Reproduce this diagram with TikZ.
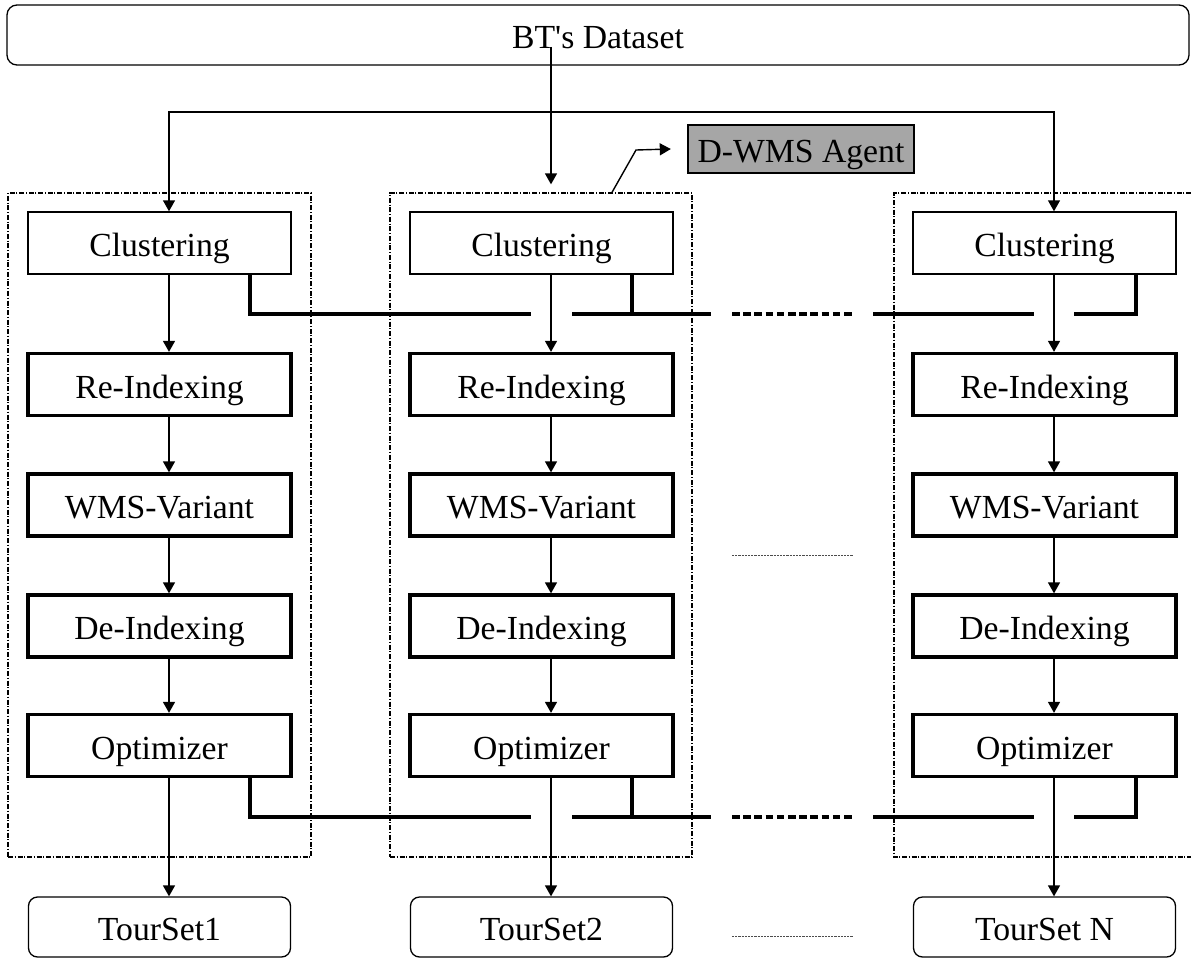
\documentclass[tikz,border=0pt]{standalone}
\usepackage{fontspec}
\setmainfont{Liberation Serif}[Ligatures=TeXOff]
\usetikzlibrary{arrows.meta,calc}
\begin{document}
\begin{tikzpicture}[x=1pt,y=-1pt,
  txt/.style={font=\fontsize{33.7pt}{40pt}\selectfont, text height=27pt, text depth=0pt, inner sep=0pt},
  stage/.style={txt, draw, line width=1.4pt, minimum width=263pt, minimum height=62pt},
  heavystage/.style={stage, line width=3.3pt},
  endbox/.style={txt, draw, line width=1.3pt, rounded corners=9pt, minimum width=262pt, minimum height=60pt},
  agentframe/.style={draw, line width=1.3pt, dash pattern=on 5pt off 1.6pt on 1.3pt off 1.6pt},
  frame/.style={agentframe, inner sep=0pt, minimum height=664pt},
  tag/.style={txt, draw, fill=black!35, line width=2.4pt, minimum width=226pt, minimum height=48pt},
  tip/.style={Triangle[length=11pt,width=12pt]},
  arr/.style={line width=1.4pt, -{Triangle[length=11pt,width=12pt]}},
  bus/.style={line width=4.6pt},
  busdots/.style={line width=4.6pt, dash pattern=on 7.5pt off 3.7pt},
  gapdots/.style={line width=1pt, black!70, dash pattern=on 2.2pt off 1pt}]

\useasboundingbox (0,0) rectangle (1191,958);

% agent frames (dash-dot)
\node[frame, minimum width=303pt] (d1) at (159.5,525) {};
\node[frame, minimum width=302pt] (d2) at (541,525) {};
\draw[agentframe] (1191,193) -| (894,857) -- (1191,857);

% data source
\node[endbox, minimum width=1182pt, rounded corners=10pt] (bt) at (598,35) {BT's Dataset};
\node[tag] (tag) at (801,149) {D-WMS Agent};

% arrow columns and bus stub columns
\coordinate (s1) at (250,0);
\coordinate (s2) at (632,0);
\coordinate (s3) at (1136,0);

% the three agent pipelines
\foreach \i/\cx/\lab in {1/159.5/TourSet1, 2/541.5/TourSet2, 3/1044.5/TourSet N}{
  \coordinate (x\i) at (\cx+9.5,0);
  \node[stage]      (c\i) at (\cx,243)   {Clustering};
  \node[heavystage] (r\i) at (\cx,384.5) {Re-Indexing};
  \node[heavystage] (w\i) at (\cx,505)   {WMS-Variant};
  \node[heavystage] (e\i) at (\cx,626)   {De-Indexing};
  \node[heavystage] (o\i) at (\cx,745.5) {Optimizer};
  \node[endbox]     (t\i) at (\cx,927)   {\lab};
  \draw[arr] (c\i.south -| x\i) -- (r\i.north -| x\i);
  \draw[arr] (r\i.south -| x\i) -- (w\i.north -| x\i);
  \draw[arr] (w\i.south -| x\i) -- (e\i.north -| x\i);
  \draw[arr] (e\i.south -| x\i) -- (o\i.north -| x\i);
  \draw[arr] (o\i.south -| x\i) -- (t\i.north -| x\i);
}

% distribution from the dataset
\coordinate (src) at (551,47);
\coordinate (split) at (551,112);
\draw[arr, shorten >=8pt] (src) -- (d2.north -| x2);
\draw[line width=1.4pt, {Triangle[length=11pt,width=12pt]}-{Triangle[length=11pt,width=12pt]}]
  (c1.north -| x1) |- (split) -| (c3.north -| x3);

% label pointer
\draw[arr] ([xshift=71pt]d2.north) -- (636,150) -- ([xshift=-16pt]tag.west);

% communication buses between agents
\foreach \src/\by in {c/314, o/817}{
  \draw[bus] (\src1.south -| s1) |- (531,\by);
  \draw[bus] (572,\by) -- (711,\by);
  \draw[bus] (\src2.south -| s2) -- (632,\by);
  \draw[busdots] (732,\by) -- (855,\by);
  \draw[bus] (873,\by) -- (1034,\by);
  \draw[bus] (1074,\by) -| (\src3.south -| s3);
}

% elided agents
\draw[gapdots] (732,555) -- (853,555);
\draw[gapdots] (732,936) -- (853,936);
\end{tikzpicture}
\end{document}
